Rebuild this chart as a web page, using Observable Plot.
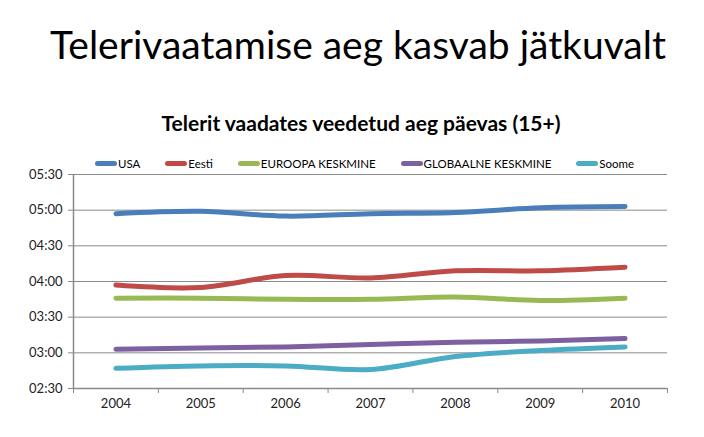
<!DOCTYPE html>
<html><head><meta charset="utf-8">
<script src="https://cdn.jsdelivr.net/npm/d3@7"></script>
<script src="https://cdn.jsdelivr.net/npm/@observablehq/plot@0.6"></script>
<style>
body{margin:0;background:#fff;font-family:Lato,"Open Sans",sans-serif;}
#wrap{position:relative;width:704px;height:437px;overflow:hidden;}
#title{position:absolute;top:21px;left:0;width:716px;text-align:center;font-size:39px;color:#000;}
#sub{position:absolute;top:110px;left:0;width:722px;text-align:center;font-size:21px;font-weight:bold;color:#000;}
#legend{position:absolute;top:157px;left:95px;display:flex;gap:25px;font-size:11.5px;color:#000;}
#legend .it{display:flex;align-items:center;}
#legend .sw{width:22px;height:5px;border-radius:3px;margin-right:1px;}
#chart{position:absolute;top:150px;left:0;}
</style></head>
<body><div id="wrap">
<div id="title">Telerivaatamise aeg kasvab jätkuvalt</div>
<div id="sub">Telerit vaadates veedetud aeg päevas (15+)</div>
<div id="legend"></div>
<div id="chart"></div>
</div>
<script>
const years = [2004, 2005, 2006, 2007, 2008, 2009, 2010];
const seriesNames = ["USA", "Eesti", "EUROOPA KESKMINE", "GLOBAALNE KESKMINE", "Soome"];
const seriesColors = ["#4a7ebb", "#be4b48", "#98b954", "#7d60a0", "#4bacc6"];
const usa      = ["4:57", "4:59", "4:55", "4:57", "4:58", "5:02", "5:03"];
const eesti    = ["3:57", "3:55", "4:05", "4:03", "4:09", "4:09", "4:12"];
const euroopa  = ["3:46", "3:46", "3:45", "3:45", "3:47", "3:44", "3:46"];
const globaal  = ["3:03", "3:04", "3:05", "3:07", "3:09", "3:10", "3:12"];
const soome    = ["2:47", "2:49", "2:49", "2:46", "2:57", "3:02", "3:05"];
const yTickLabels = ["02:30", "03:00", "03:30", "04:00", "04:30", "05:00", "05:30"];

const toMin = s => { const [h, m] = s.split(":").map(Number); return h * 60 + m; };
const allSeries = [usa, eesti, euroopa, globaal, soome];
const data = [];
allSeries.forEach((vals, i) => vals.forEach((v, j) => data.push({series: seriesNames[i], year: years[j], min: toMin(v)})));
const yTicks = yTickLabels.map(toMin);
const xDomain = [years[0] - 0.5, years[years.length - 1] + 0.5];
const bounds = years.map(y => y - 0.5).concat([years[years.length - 1] + 0.5]);

const leg = document.getElementById("legend");
seriesNames.forEach((n, i) => {
  const d = document.createElement("div"); d.className = "it";
  d.innerHTML = `<span class="sw" style="background:${seriesColors[i]}"></span><span>${n}</span>`;
  leg.appendChild(d);
});

const chart = Plot.plot({
  width: 704, height: 287,
  marginLeft: 73, marginRight: 37, marginTop: 24, marginBottom: 49,
  style: {fontFamily: "Lato, 'Open Sans', sans-serif", fontSize: "13px", color: "#222", background: "transparent"},
  x: {type: "linear", domain: xDomain},
  y: {domain: [yTicks[0], yTicks[yTicks.length - 1]]},
  color: {domain: seriesNames, range: seriesColors},
  marks: [
    Plot.gridY(yTicks, {stroke: "#8a8a8a", strokeOpacity: 1, strokeWidth: 1}),
    Plot.ruleX([xDomain[0]], {stroke: "#8a8a8a", strokeWidth: 1.5}),
    Plot.ruleY([yTicks[0]], {stroke: "#8a8a8a", strokeWidth: 1.5}),
    Plot.axisY(yTicks, {tickSize: 5, tickPadding: 6, tickFormat: d => yTickLabels[yTicks.indexOf(d)], label: null, fill: "#222", stroke: "#8a8a8a"}),
    Plot.axisX(bounds, {tickSize: 5, tickFormat: () => "", label: null, stroke: "#8a8a8a"}),
    Plot.axisX(years, {tickSize: 0, tickPadding: 10, tickFormat: d => String(d), label: null, fill: "#222"}),
    Plot.line(data, {x: "year", y: "min", z: "series", stroke: "series", strokeWidth: 5, curve: "catmull-rom", strokeLinecap: "round"})
  ]
});
document.getElementById("chart").appendChild(chart);
</script>
</body></html>
